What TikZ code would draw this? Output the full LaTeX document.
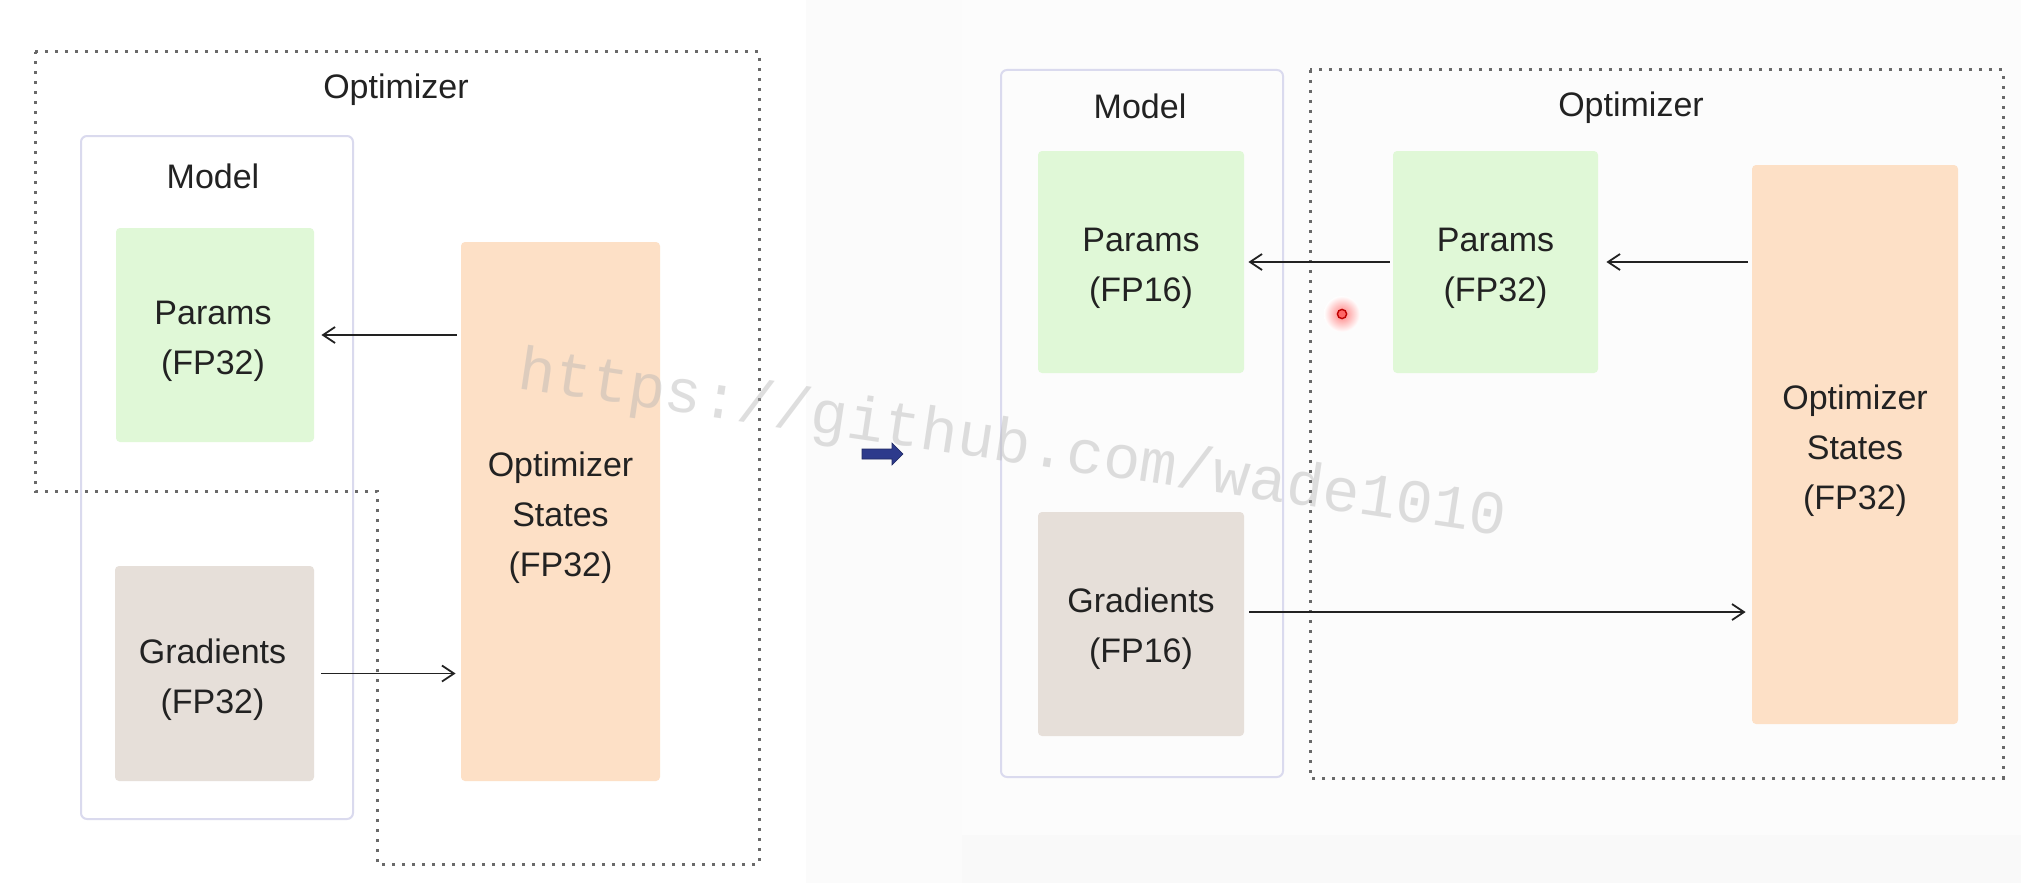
\documentclass[tikz,border=0pt]{standalone}
\usepackage{fontspec}
\setmainfont{Liberation Sans}
\newfontfamily\wmfont{Liberation Mono}
\usetikzlibrary{arrows.meta,calc}
\definecolor{pgreen}{RGB}{224,248,215}
\definecolor{pgrad}{RGB}{230,223,217}
\definecolor{ppeach}{RGB}{253,224,198}
\definecolor{modelborder}{RGB}{218,218,238}
\definecolor{dotgray}{RGB}{105,105,105}
\definecolor{txt}{RGB}{34,34,34}
\definecolor{arrblue}{RGB}{45,58,140}
\begin{document}
\begin{tikzpicture}[x=0.5pt,y=-0.5pt,
 box/.style={rectangle, rounded corners=2pt, inner sep=0pt},
 lbl/.style={font=\fontsize{17}{25}\selectfont, text=txt, align=center, inner sep=0pt},
 title/.style={font=\fontsize{17}{25}\selectfont, text=txt, inner sep=0pt},
 optline/.style={draw=dotgray, line width=1.5pt, dash pattern=on 1.5pt off 3.5pt},
 modelframe/.style={rectangle, draw=modelborder, line width=1pt, rounded corners=3pt, inner sep=0pt},
 arr/.style={draw=txt, line width=0.9pt, -{Straight Barb[length=6pt,width=8pt]}},
 wm/.style={font=\wmfont\fontsize{30.8}{31}\selectfont, text=gray!60, opacity=0.42, inner sep=0pt}
]
\useasboundingbox (0,0) rectangle (2021,883);
\fill[white] (0,0) rectangle (2021,883);
\fill[gray!3] (806,0) rectangle (962,883);
\fill[gray!5] (962,835) rectangle (2021,883);
\fill[white!98!gray] (962,0) rectangle (2021,835);

% ---------- left diagram ----------
\draw[optline] (35,52) -- (759,52) -- (759,864) -- (377,864) -- (377,491) -- (35,491) -- cycle;
\node[title] (opt1) at (396,90) {Optimizer};
\node[modelframe, minimum width=136pt, minimum height=341.5pt] (m1) at (217,477.5) {};
\node[title] (m1t) at (213,176) {Model};
\node[box, fill=pgreen, minimum width=99pt, minimum height=107pt] (p1) at (215,335) {};
\node[lbl] (p1l) at ($(p1.center)+(-1pt,-3pt)$) {Params\\(FP32)};
\node[box, fill=pgrad, minimum width=99.5pt, minimum height=107.5pt] (g1) at (214.5,673.5) {};
\node[lbl] (g1l) at ($(g1.center)+(-1pt,-3pt)$) {Gradients\\(FP32)};
\node[box, fill=ppeach, minimum width=99.5pt, minimum height=269.5pt] (os1) at (560.5,511.5) {};
\node[lbl] (os1l) at ($(os1.center)+(0,-3pt)$) {Optimizer\\States\\(FP32)};
\draw[arr] ($(os1.west |- p1.east)+(-2pt,0)$) -- ($(p1.east)+(3.5pt,0)$);
\draw[arr] ($(g1.east)+(3.5pt,0)$) -- ($(g1.east -| os1.west)+(-2.5pt,0)$);

% ---------- middle arrow ----------
\fill[arrblue, draw=arrblue!70!black, line width=0.3pt] (862,449) -- (892,449) -- (892,443) -- (903,454) -- (892,465) -- (892,459) -- (862,459) -- cycle;

% ---------- right diagram ----------
\node[modelframe, minimum width=141pt, minimum height=353.5pt] (m2) at (1142,423.5) {};
\node[title] (m2t) at (1140,106) {Model};
\draw[optline] (1310,70) rectangle (2003,778);
\node[title] (opt2) at (1631,108) {Optimizer};
\node[box, fill=pgreen, minimum width=103pt, minimum height=111pt] (p16) at (1141,262) {};
\node[lbl] (p16l) at ($(p16.center)+(0,-3pt)$) {Params\\(FP16)};
\node[box, fill=pgrad, minimum width=103pt, minimum height=112pt] (g2) at (1141,624) {};
\node[lbl] (g2l) at ($(g2.center)+(0,-2.5pt)$) {Gradients\\(FP16)};
\node[box, fill=pgreen, minimum width=102.5pt, minimum height=111pt] (p32) at (1495.5,262) {};
\node[lbl] (p32l) at ($(p32.center)+(0,-3pt)$) {Params\\(FP32)};
\node[box, fill=ppeach, minimum width=103pt, minimum height=279.5pt] (os2) at (1855,444.5) {};
\node[lbl] (os2l) at ($(os2.center)+(0,-3pt)$) {Optimizer\\States\\(FP32)};
\draw[arr] ($(p32.west)+(-1.5pt,0)$) -- ($(p16.east)+(2pt,0)$);
\draw[arr] ($(os2.west |- p32.east)+(-2pt,0)$) -- ($(p32.east)+(4pt,0)$);
\draw[arr] ($(g2.east)+(2.5pt,6pt)$) -- ($(g2.east -| os2.west)+(-3pt,6pt)$);

% cursor dot
\shade[inner color=red!50, outer color=white] (1342,314) circle (9pt);
\draw[red!75!black, fill=red!60, line width=0.7pt] (1342,314) circle (2.3pt);

% watermark
\node[wm, rotate=-8.5, anchor=base west] (wmark) at (516,388) {https://github.com/wade1010};
\end{tikzpicture}
\end{document}
